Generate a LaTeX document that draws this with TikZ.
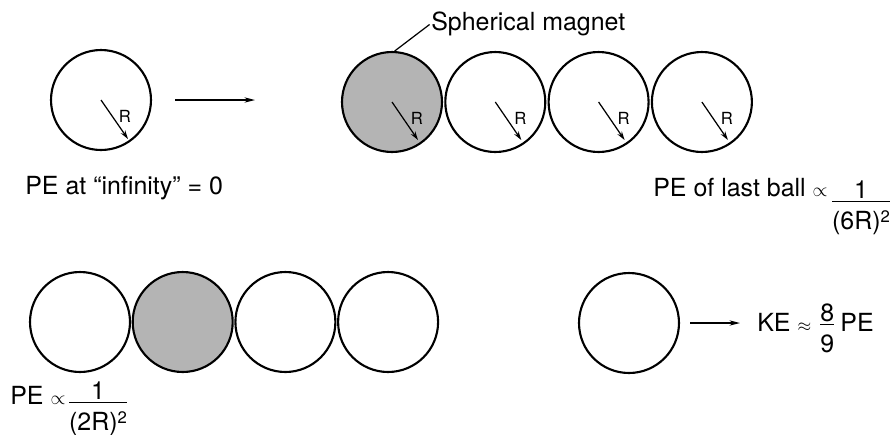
\documentclass[tikz,border=0pt]{standalone}
\usepackage{fontspec}
\setmainfont{TeX Gyre Heros}
\usetikzlibrary{arrows.meta,positioning,calc}
\definecolor{magnetgray}{RGB}{180,180,180}
\newcommand{\ballfrac}[2]{$\frac{\mbox{#1}}{\mbox{\rule{0pt}{1.08em}#2}}$}
\newcommand{\sqr}{\raisebox{0.3em}{\fontsize{9.5}{10}\selectfont 2}}
\newcommand{\smallprop}{{\fontsize{10.5}{12}\selectfont$\propto$}}
\newcommand{\smallapprox}{{\fontsize{10}{12}\selectfont$\approx$}}

\begin{document}
\begin{tikzpicture}[x=0.02cm,y=-0.02cm,
  ball/.style={draw,circle,minimum size=2cm,inner sep=0pt,line width=1.2pt},
  magnet/.style={ball,fill=magnetgray},
  radarrow/.style={-{Stealth[length=5pt,width=3pt]},line width=0.7pt},
  motion/.style={-{Stealth[length=6pt,width=3pt]},line width=0.8pt},
  rlabel/.style={font=\fontsize{9.5}{11}\selectfont,inner sep=0pt},
  txt/.style={font=\fontsize{14.2}{16}\selectfont,inner sep=0pt}]

  \useasboundingbox (0,0) rectangle (893,434);

  % Lone ball far away
  \node[ball] (lone) at (101,100) {};
  \draw[radarrow] (lone.center) -- ++(27,39);
  \node[rlabel] at ($(lone.center)+(24,16)$) {R};
  \node[txt,anchor=base west] (inf) at (25,194) {PE at “infinity” = 0};

  % It rolls toward the row
  \coordinate (rollA) at (175,100);
  \coordinate (rollB) at (255,100);
  \draw[motion] (rollA) -- (rollB);

  % Top row: magnet plus three balls
  \foreach \i/\sty in {1/magnet,2/ball,3/ball,4/ball} {
    \pgfmathsetmacro{\cx}{392+103.3*(\i-1)}
    \node[\sty] (top\i) at (\cx,102) {};
    \draw[radarrow] (top\i.center) -- ++(26,38);
    \node[rlabel] at ($(top\i.center)+(25,16)$) {R};
  }

  % Magnet label
  \node[txt,anchor=base west] (maglbl) at (431,30) {Spherical magnet};
  \draw[line width=0.7pt,shorten >=1pt] (top1.87) -- (maglbl.west);

  % PE of the last ball
  \node[txt,anchor=base west] (lastpe) at (653,196) {PE of last ball \smallprop};
  \node[txt,anchor=base] (lastfrac) at (861,208) {\ballfrac{1}{(6R)\sqr}};

  % Bottom row: ball, magnet, two balls
  \foreach \i/\sty in {1/ball,2/magnet,3/ball,4/ball} {
    \pgfmathsetmacro{\cx}{80+102.7*(\i-1)}
    \node[\sty] (bot\i) at (\cx,322) {};
  }
  \node[txt,anchor=base west] (pebot) at (10,404) {PE \smallprop};
  \node[txt,anchor=base] (botfrac) at (98,409) {\ballfrac{1}{(2R)\sqr}};

  % Ball flying off
  \node[ball] (free) at (629,323) {};
  \node[txt,anchor=base west] (ke) at (757,331) {KE \smallapprox\ \ballfrac{8}{9}\,PE};
  \draw[motion,shorten <=0.2cm,shorten >=0.34cm] (free.east) -- (free.east -| ke.west);

\end{tikzpicture}
\end{document}
